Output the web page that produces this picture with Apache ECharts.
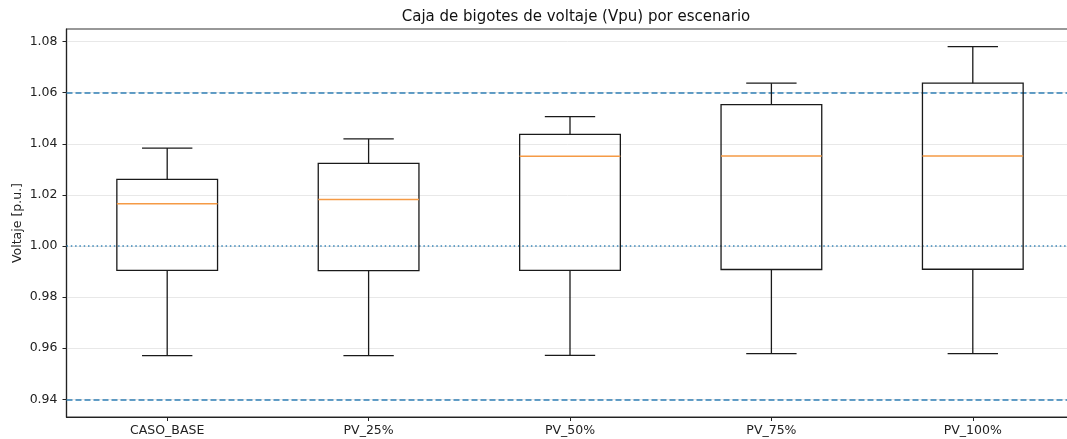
<!DOCTYPE html>
<html>
<head>
<meta charset="utf-8">
<script src="https://cdn.jsdelivr.net/npm/echarts@6/dist/echarts.min.js"></script>
<style>
  html, body { margin: 0; padding: 0; background: #fff; }
  #chart { width: 1067px; height: 439px; }
</style>
</head>
<body>
<div id="chart"></div>
<script>
const categories = ['CASO_BASE', 'PV_25%', 'PV_50%', 'PV_75%', 'PV_100%'];
const whiskerLow  = [0.9571, 0.9571, 0.9572, 0.9579, 0.9579];
const q1Values    = [0.9905, 0.9904, 0.9905, 0.9908, 0.9909];
const medians     = [1.0165, 1.0182, 1.0351, 1.0352, 1.0352];
const q3Values    = [1.0261, 1.0323, 1.0437, 1.0553, 1.0637];
const whiskerHigh = [1.0383, 1.0419, 1.0506, 1.0637, 1.0780];
const yTicks = [0.94, 0.96, 0.98, 1.00, 1.02, 1.04, 1.06, 1.08];
const limitLines = [1.06, 0.94];
const nominalLine = [1.00];

const rows = categories.map((c, i) => [i, whiskerLow[i], q1Values[i], medians[i], q3Values[i], whiskerHigh[i]]);

const FONT = 'DejaVu Sans';
const chart = echarts.init(document.getElementById('chart'), null, { renderer: 'canvas' });

function renderBox(params, api) {
  const x = api.value(0);
  const lo = api.coord([x, api.value(1)]);
  const q1 = api.coord([x, api.value(2)]);
  const md = api.coord([x, api.value(3)]);
  const q3 = api.coord([x, api.value(4)]);
  const hi = api.coord([x, api.value(5)]);
  const band = api.size([1, 0])[0];
  const hb = band * 0.25;   // half box width
  const hc = band * 0.125;  // half cap width
  const cx = lo[0];
  const edge = { stroke: '#1a1a1a', lineWidth: 1.3, fill: null };
  return {
    type: 'group',
    children: [
      { type: 'line', shape: { x1: cx, y1: q1[1], x2: cx, y2: lo[1] }, style: edge },
      { type: 'line', shape: { x1: cx, y1: q3[1], x2: cx, y2: hi[1] }, style: edge },
      { type: 'line', shape: { x1: cx - hc, y1: lo[1], x2: cx + hc, y2: lo[1] }, style: edge },
      { type: 'line', shape: { x1: cx - hc, y1: hi[1], x2: cx + hc, y2: hi[1] }, style: edge },
      { type: 'rect', shape: { x: cx - hb, y: q3[1], width: hb * 2, height: q1[1] - q3[1] },
        style: { stroke: '#1a1a1a', lineWidth: 1.3, fill: 'rgba(0,0,0,0)' } },
      { type: 'line', shape: { x1: cx - hb, y1: md[1], x2: cx + hb, y2: md[1] },
        style: { stroke: '#f59a45', lineWidth: 1.5 } }
    ]
  };
}

const option = {
  backgroundColor: '#ffffff',
  animation: false,
  title: {
    text: 'Caja de bigotes de voltaje (Vpu) por escenario',
    left: 571, textAlign: 'center', top: 5,
    textStyle: { fontFamily: FONT, fontSize: 15, fontWeight: 'normal', color: '#111' }
  },
  grid: {
    left: 66.5, width: 1007, top: 29, bottom: 22,
    outerBoundsMode: 'none', containLabel: false,
    show: true, borderColor: '#333', borderWidth: 1.2, backgroundColor: 'transparent'
  },
  xAxis: {
    type: 'category',
    data: categories,
    boundaryGap: true,
    axisLine: { show: true, lineStyle: { color: '#222', width: 1.2 } },
    axisTick: { show: true, alignWithLabel: true, length: 4, lineStyle: { color: '#222' } },
    axisLabel: { margin: 7, fontFamily: FONT, fontSize: 12.5, color: '#222' },
    splitLine: { show: false }
  },
  yAxis: {
    type: 'value',
    min: 0.9331, max: 1.0849,
    name: 'Voltaje [p.u.]',
    nameLocation: 'middle', nameRotate: 90, nameGap: 42, nameMoveOverlap: false,
    nameTextStyle: { fontFamily: FONT, fontSize: 12.5, color: '#222' },
    axisLine: { show: true, lineStyle: { color: '#222', width: 1.2 } },
    axisTick: { show: true, length: 4, customValues: yTicks, lineStyle: { color: '#222' } },
    axisLabel: { margin: 9, fontFamily: FONT, fontSize: 12.5, color: '#222',
      customValues: yTicks, formatter: v => v.toFixed(2) },
    splitLine: { show: true, lineStyle: { color: '#e8e8e8', width: 1 } }
  },
  series: [
    {
      type: 'custom',
      name: 'voltaje',
      renderItem: renderBox,
      data: rows,
      encode: { x: 0, y: [1, 2, 3, 4, 5] },
      z: 5,
      markLine: {
        silent: true, symbol: 'none', label: { show: false },
        data: limitLines.map(v => ({ yAxis: v, lineStyle: { color: '#2f7fb5', type: [6, 3], width: 1.6 } }))
          .concat(nominalLine.map(v => ({ yAxis: v, lineStyle: { color: '#3a86b8', type: [1.5, 2.8], width: 1.6 } })))
      }
    }
  ]
};
chart.setOption(option);
</script>
</body>
</html>
